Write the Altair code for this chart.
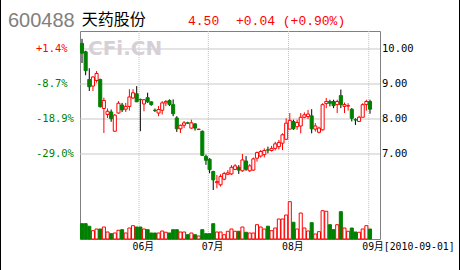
import altair as alt
import pandas as pd

# ---- data ----
opens = [10.16, 9.92, 9.13, 8.94, 9.10, 9.13, 8.30, 8.13, 8.20, 7.65,
         8.17, 8.40, 8.28, 8.36, 8.60, 8.72, 8.56, 8.43, 8.61, 8.49,
         8.25, 8.17, 8.25, 8.46, 8.53, 8.41, 8.03, 7.72, 7.82, 7.89,
         7.74, 7.86, 7.70, 7.65, 6.93, 6.85, 6.50, 6.18, 6.12, 6.28,
         6.42, 6.43, 6.56, 6.62, 6.52, 6.80, 6.52, 6.54, 6.88, 6.94,
         6.98, 7.12, 7.10, 7.16, 7.21, 7.31, 7.42, 7.71, 7.93, 7.78,
         7.80, 8.05, 8.07, 8.09, 7.71, 7.62, 7.69, 8.44, 8.50, 8.50,
         8.41, 8.67, 8.36, 8.37, 8.28, 7.98, 7.93, 8.05, 8.41, 8.50]
closes = [9.88, 9.38, 8.92, 9.20, 9.30, 8.35, 8.53, 8.22, 8.01, 8.11,
          8.45, 8.26, 8.36, 8.63, 8.75, 8.49, 8.55, 8.55, 8.49, 8.41,
          8.24, 8.27, 8.46, 8.50, 8.41, 8.15, 7.72, 7.82, 7.89, 7.88,
          7.89, 7.74, 7.71, 6.96, 6.82, 6.55, 6.26, 6.21, 6.36, 6.44,
          6.46, 6.62, 6.66, 6.54, 6.83, 6.56, 6.66, 6.86, 7.04, 7.07,
          7.10, 7.11, 7.16, 7.29, 7.33, 7.55, 7.88, 7.96, 7.72, 7.90,
          8.05, 8.12, 8.14, 7.72, 7.80, 7.74, 8.41, 8.50, 8.45, 8.38,
          8.50, 8.41, 8.41, 8.38, 8.02, 7.97, 8.05, 8.41, 8.50, 8.28]
highs = [10.29, 9.95, 9.45, 9.22, 9.37, 9.15, 8.61, 8.30, 8.27, 8.14,
         8.51, 8.46, 8.46, 8.85, 8.85, 8.94, 8.58, 8.57, 8.75, 8.50,
         8.30, 8.37, 8.51, 8.54, 8.56, 8.56, 8.08, 7.84, 7.94, 7.92,
         7.98, 7.88, 7.72, 7.67, 6.98, 6.88, 6.52, 6.40, 6.42, 6.49,
         6.54, 6.68, 6.71, 6.68, 7.00, 6.94, 6.71, 6.90, 7.07, 7.11,
         7.16, 7.21, 7.23, 7.35, 7.40, 7.59, 8.02, 8.17, 7.98, 7.98,
         8.17, 8.19, 8.26, 8.28, 7.88, 7.78, 8.45, 8.60, 8.55, 8.55,
         8.55, 8.84, 8.47, 8.45, 8.31, 8.02, 8.09, 8.45, 8.55, 8.55]
lows = [9.60, 9.25, 8.80, 8.80, 9.04, 8.33, 7.60, 8.03, 7.92, 7.64,
        8.15, 8.20, 8.20, 8.24, 8.58, 8.49, 7.65, 8.22, 8.46, 8.38,
        8.20, 8.08, 8.13, 8.37, 8.37, 8.08, 7.63, 7.60, 7.74, 7.86,
        7.72, 7.67, 7.69, 6.95, 6.69, 6.45, 5.97, 6.02, 6.07, 6.25,
        6.40, 6.40, 6.54, 6.43, 6.49, 6.52, 6.49, 6.52, 6.78, 6.90,
        6.90, 7.02, 7.07, 7.10, 7.13, 7.11, 7.40, 7.71, 7.69, 7.69,
        7.59, 8.02, 8.00, 7.59, 7.64, 7.59, 7.67, 8.31, 8.36, 8.31,
        8.17, 8.31, 8.17, 8.24, 7.93, 7.83, 7.93, 8.05, 8.24, 8.15]
volumes = [383, 383, 318, 208, 250, 250, 300, 175, 133, 150,
           218, 233, 150, 275, 333, 300, 300, 250, 233, 150,
           150, 150, 200, 168, 150, 233, 233, 175, 175, 108,
           150, 108, 75, 233, 133, 133, 383, 175, 175, 108,
           193, 250, 193, 193, 300, 168, 150, 150, 358, 300,
           250, 320, 208, 275, 500, 500, 600, 933, 418, 250,
           650, 275, 200, 408, 125, 183, 708, 693, 358, 233,
           358, 683, 275, 193, 275, 175, 168, 250, 333, 250]

month_labels = ["06月", "07月", "08月", "09月[2010-09-01]"]
month_first_candle = [17, 36, 58, 80]
price_ticks = [10, 9, 8, 7]
price_tick_labels = ["10.00", "9.00", "8.00", "7.00"]
pct_labels = ["+1.4%", "-8.7%", "-18.9%", "-29.0%"]
stock_code = "600488"
stock_name = "天药股份"
last_price = "4.50"
change_text = "+0.04 (+0.90%)"
watermark = "CFi.CN"

RED = "#ff0000"
GREEN = "#008000"
MONO = "DejaVu Sans Mono, Noto Sans CJK SC"

df = pd.DataFrame({
    "idx": list(range(1, len(opens) + 1)),
    "open": opens, "close": closes, "high": highs, "low": lows, "vol": volumes,
})
months = pd.DataFrame({"first": month_first_candle, "label": month_labels})
ticks = pd.DataFrame({"price": price_ticks, "plab": price_tick_labels, "pct": pct_labels})

xs = alt.Scale(domain=[0.45, 82.74], nice=False, zero=False)
ys = alt.Scale(domain=[4.571, 10.514], nice=False, zero=False)
vs = alt.Scale(domain=[0, 5200], nice=False, zero=True)

up = "datum.close > datum.open"

hgrid = alt.Chart(ticks).mark_rule(color="#c8c8c8", strokeWidth=1).encode(
    y=alt.Y("price:Q", scale=ys, axis=None))

vgrid = alt.Chart(months).transform_calculate(gx="datum.first - 0.35").mark_rule(
    color="#c0c0c0", strokeWidth=1, strokeDash=[1, 1]).encode(
    x=alt.X("gx:Q", scale=xs, axis=None))

candles = alt.Chart(df).transform_calculate(
    x0="datum.idx - 0.42", x1="datum.idx + 0.42", zero="0")

wick = candles.mark_rule(strokeWidth=1).encode(
    x=alt.X("idx:Q", scale=xs, axis=None),
    y=alt.Y("low:Q", scale=ys, axis=None), y2="high:Q",
    color=alt.condition(up, alt.value(RED), alt.value("#000000")))

body = candles.mark_rect(strokeWidth=1).encode(
    x=alt.X("x0:Q", scale=xs, axis=None), x2="x1:Q",
    y=alt.Y("open:Q", scale=ys, axis=None), y2="close:Q",
    fill=alt.condition(up, alt.value("#ffffff"), alt.value(GREEN)),
    stroke=alt.condition(up, alt.value(RED), alt.value(GREEN)))

vol = candles.mark_rect(strokeWidth=1).encode(
    x=alt.X("x0:Q", scale=xs, axis=None), x2="x1:Q",
    y=alt.Y("vol:Q", scale=vs, axis=None), y2="zero:Q",
    fill=alt.condition(up, alt.value("#ffffff"), alt.value(GREEN)),
    stroke=alt.condition(up, alt.value(RED), alt.value(GREEN)))

right_lab = alt.Chart(ticks).mark_text(
    align="left", baseline="middle", font=MONO, fontSize=10.5, color="#000000").encode(
    x=alt.value(302), y=alt.Y("price:Q", scale=ys, axis=None), text="plab:N")

left_lab = alt.Chart(ticks).mark_text(
    align="left", baseline="middle", font=MONO, fontSize=10.5).encode(
    x=alt.value(-44), y=alt.Y("price:Q", scale=ys, axis=None), text="pct:N",
    color=alt.condition("datum.price > 9.9", alt.value(RED), alt.value(GREEN)))

month_lab = alt.Chart(months).transform_calculate(gx="datum.first - 0.35").mark_text(
    align="left", baseline="middle", dx=-6.5, font=MONO, fontSize=9.8, color="#000000").encode(
    x=alt.X("gx:Q", scale=xs, axis=None), y=alt.value(215.5), text="label:N")

one = pd.DataFrame({"code": [stock_code], "name": [stock_name], "price": [last_price],
                    "chg": [change_text], "wm": [watermark]})
code_t = alt.Chart(one).mark_text(align="left", baseline="alphabetic", font="Liberation Sans",
                                  fontSize=20, color="#808080").encode(
    x=alt.value(-72), y=alt.value(-4.3), text="code:N")
name_t = alt.Chart(one).mark_text(align="left", baseline="alphabetic", font="Noto Sans CJK SC",
                                  fontSize=16, color="#000000").encode(
    x=alt.value(1.7), y=alt.value(-5.6), text="name:N")
price_t = alt.Chart(one).mark_text(align="left", baseline="alphabetic", font="Liberation Mono",
                                   fontSize=13, color=RED).encode(
    x=alt.value(108), y=alt.value(-6), text="price:N")
chg_t = alt.Chart(one).mark_text(align="left", baseline="alphabetic", font="Liberation Mono",
                                 fontSize=13, color=RED).encode(
    x=alt.value(156), y=alt.value(-6), text="chg:N")
wm_t = alt.Chart(one).mark_text(align="left", baseline="alphabetic", font="DejaVu Sans",
                                fontWeight="bold", fontSize=20, color="#d6d0d6").encode(
    x=alt.value(8), y=alt.value(24), text="wm:N")

border_l = alt.Chart(one).mark_rule(color="#000000", strokeWidth=1).encode(
    x=alt.value(-79.5), y=alt.value(-31), y2=alt.value(239))
border_r = alt.Chart(one).mark_rule(color="#000000", strokeWidth=1).encode(
    x=alt.value(379.5), y=alt.value(-31), y2=alt.value(239))

chart = alt.layer(
    hgrid, vgrid, wm_t, wick, body, vol, right_lab, left_lab, month_lab,
    code_t, name_t, price_t, chg_t, border_l, border_r
).resolve_scale(y="independent").properties(
    width=300, height=208,
    padding={"left": 80, "top": 31, "right": 80, "bottom": 31},
    autosize=alt.AutoSizeParams(type="none"),
    background="#ffffff",
).configure_view(stroke="#808080", strokeWidth=1)

chart.save("out.html", embed_options={"renderer": "svg", "actions": False})
